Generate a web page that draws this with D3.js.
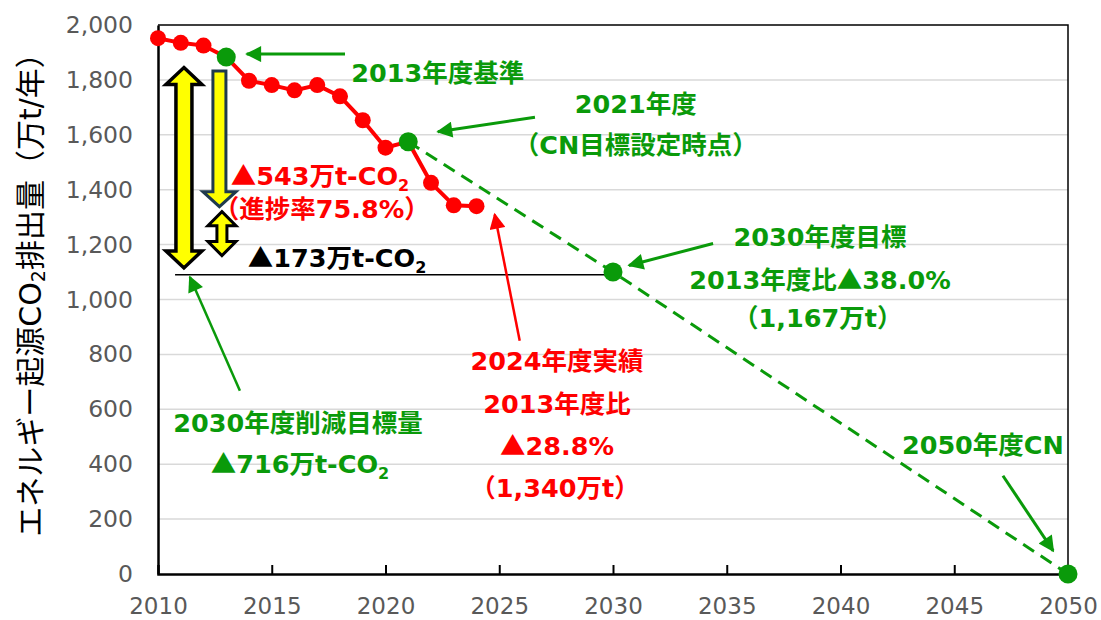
<!DOCTYPE html>
<html>
<head>
<meta charset="utf-8">
<script src="https://cdn.jsdelivr.net/npm/d3@7"></script>
<style>
  body { margin: 0; background: #fff; }
  svg { display: block; }
  text { font-family: "DejaVu Sans", "Noto Sans CJK JP", sans-serif; }
</style>
</head>
<body>
<svg id="chart" width="1101" height="620"></svg>
<script>
    // Actual emissions (万t-CO2), fiscal years 2010-2024
    const years = [2010, 2011, 2012, 2013, 2014, 2015, 2016, 2017, 2018, 2019, 2020, 2021, 2022, 2023, 2024];
    const emissions = [1952, 1935, 1925, 1883, 1797, 1781, 1762, 1781, 1740, 1653, 1553, 1575, 1425, 1343, 1340];

    // Target pathway (dashed green)
    const pathYears = [2021, 2030, 2050];
    const pathValues = [1575, 1100, 0];

    // Highlighted points (green)
    const keyYears = [2013, 2021, 2030, 2050];
    const keyValues = [1883, 1575, 1100, 0];

    // 2030 target reference line
    const targetLineYears = [2010.75, 2030];
    const targetLineValue = 1090;

    const xTicks = [2010, 2015, 2020, 2025, 2030, 2035, 2040, 2045, 2050];
    const yTicks = [0, 200, 400, 600, 800, 1000, 1200, 1400, 1600, 1800, 2000];

    const green = "#0a9a0a";
    const red = "#ff0000";

    const svg = d3.select("#chart");

    const x = d3.scaleLinear().domain([2010, 2050]).range([158, 1068]);
    const y = d3.scaleLinear().domain([0, 2000]).range([574, 25]);

    // Gridlines
    svg.append("g")
        .attr("stroke", "#d9d9d9")
        .attr("stroke-width", 1.5)
      .selectAll("line")
      .data(yTicks.filter(d => d > 0 && d < 2000))
      .join("line")
        .attr("x1", x(2010))
        .attr("x2", x(2050))
        .attr("y1", d => y(d))
        .attr("y2", d => y(d));

    // Frame (top/right)
    svg.append("path")
        .attr("d", `M${x(2010)},${y(2000)}H${x(2050)}V${y(0)}`)
        .attr("fill", "none")
        .attr("stroke", "#000")
        .attr("stroke-width", 1.5);

    // Axes
    const xAxis = svg.append("g")
        .attr("transform", `translate(0,${y(0)})`)
        .call(d3.axisBottom(x).tickValues(xTicks).tickSize(-9).tickFormat(d3.format("d")));
    xAxis.select(".domain").attr("stroke", "#000").attr("stroke-width", 2.5);
    xAxis.selectAll(".tick line").attr("stroke", "#000").attr("stroke-width", 2);
    xAxis.selectAll(".tick text")
        .attr("y", 32)
        .attr("dy", "0.35em")
        .attr("fill", "#595959")
        .attr("font-size", 23)
        .attr("font-family", "DejaVu Sans");
    xAxis.selectAll(".tick").filter(d => d === 2010 || d === 2050).select("line").remove();

    const yAxis = svg.append("g")
        .attr("transform", `translate(${x(2010)},0)`)
        .call(d3.axisLeft(y).tickValues(yTicks).tickSize(0).tickPadding(25).tickFormat(d3.format(",")));
    yAxis.select(".domain").attr("stroke", "#000").attr("stroke-width", 2.5);
    yAxis.selectAll(".tick text")
        .attr("fill", "#595959")
        .attr("font-size", 23.5)
        .attr("font-family", "DejaVu Sans");

    // Y axis title
    const yTitle = svg.append("text")
        .attr("transform", `translate(30,${y(1000) - 12}) rotate(-90)`)
        .attr("text-anchor", "middle")
        .attr("dominant-baseline", "central")
        .attr("font-size", 30)
        .attr("fill", "#000")
        .attr("font-family", "'Noto Sans CJK JP', sans-serif");
    yTitle.append("tspan").text("エネルギー起源CO");
    yTitle.append("tspan").attr("font-size", 19).attr("dy", 8).text("2");
    yTitle.append("tspan").attr("dy", -8).text("排出量（万t/年）");

    // 2030 target horizontal line
    svg.append("line")
        .attr("x1", x(targetLineYears[0]))
        .attr("x2", x(targetLineYears[1]))
        .attr("y1", y(targetLineValue))
        .attr("y2", y(targetLineValue))
        .attr("stroke", "#000")
        .attr("stroke-width", 1.5);

    // Dashed pathway
    svg.append("path")
        .datum(d3.zip(pathYears, pathValues))
        .attr("fill", "none")
        .attr("stroke", green)
        .attr("stroke-width", 3)
        .attr("stroke-dasharray", "13,8")
        .attr("d", d3.line().x(d => x(d[0])).y(d => y(d[1])));

    // Actual emissions line
    const actual = d3.zip(years, emissions);
    svg.append("path")
        .datum(actual)
        .attr("fill", "none")
        .attr("stroke", red)
        .attr("stroke-width", 4)
        .attr("d", d3.line().x(d => x(d[0])).y(d => y(d[1])));
    svg.append("g")
        .attr("fill", red)
      .selectAll("circle")
      .data(actual)
      .join("circle")
        .attr("cx", d => x(d[0]))
        .attr("cy", d => y(d[1]))
        .attr("r", 8);

    svg.append("g")
        .attr("fill", green)
      .selectAll("circle")
      .data(d3.zip(keyYears, keyValues))
      .join("circle")
        .attr("cx", d => x(d[0]))
        .attr("cy", d => y(d[1]))
        .attr("r", 9.5);

    // Block arrows (yellow)
    function blockArrow(cx, y1, y2, sw, hw, hl, top, bottom) {
        const pts = [];
        if (top) pts.push([cx, y1], [cx + hw, y1 + hl], [cx + sw, y1 + hl]);
        else pts.push([cx + sw, y1]);
        if (bottom) pts.push([cx + sw, y2 - hl], [cx + hw, y2 - hl], [cx, y2], [cx - hw, y2 - hl], [cx - sw, y2 - hl]);
        else pts.push([cx + sw, y2], [cx - sw, y2]);
        if (top) pts.push([cx - sw, y1 + hl], [cx - hw, y1 + hl]);
        else pts.push([cx - sw, y1]);
        return "M" + pts.map(p => p.join(",")).join("L") + "Z";
    }

    svg.append("path")
        .attr("d", blockArrow(x(2011.14), y(1845), y(1115), 8, 18, 17, true, true))
        .attr("fill", "#ffff00")
        .attr("stroke", "#000")
        .attr("stroke-width", 3.5)
        .attr("stroke-linejoin", "miter");
    svg.append("path")
        .attr("d", blockArrow(x(2012.7), y(1832), y(1338), 6.5, 16.5, 15, false, true))
        .attr("fill", "#ffff00")
        .attr("stroke", "#1f3a4d")
        .attr("stroke-width", 3)
        .attr("stroke-linejoin", "miter");
    svg.append("path")
        .attr("d", blockArrow(x(2012.81), y(1320), y(1160), 5, 14, 14, true, true))
        .attr("fill", "#ffff00")
        .attr("stroke", "#000")
        .attr("stroke-width", 3)
        .attr("stroke-linejoin", "miter");

    // Arrow markers
    const defs = svg.append("defs");
    [["head-green", green], ["head-red", red]].forEach(([id, c]) => {
        defs.append("marker")
            .attr("id", id)
            .attr("viewBox", "0 0 10 10")
            .attr("refX", 9)
            .attr("refY", 5)
            .attr("markerUnits", "userSpaceOnUse")
            .attr("markerWidth", 18)
            .attr("markerHeight", 16)
            .attr("orient", "auto")
          .append("path")
            .attr("d", "M0,0L10,5L0,10Z")
            .attr("fill", c);
    });

    const pointers = [
        { from: [2018.22, 1894], to: [2013.9, 1894], color: green, head: "head-green", w: 3 },
        { from: [2026.57, 1664], to: [2022.3, 1611], color: green, head: "head-green", w: 3 },
        { from: [2034.4, 1204], to: [2030.7, 1124], color: green, head: "head-green", w: 3 },
        { from: [2047.14, 358], to: [2049.35, 84], color: green, head: "head-green", w: 3 },
        { from: [2013.6, 668], to: [2011.4, 1082], color: green, head: "head-green", w: 2.5 },
        { from: [2025.9, 850], to: [2024.8, 1310], color: red, head: "head-red", w: 2.5 }
    ];
    svg.append("g")
      .selectAll("line")
      .data(pointers)
      .join("line")
        .attr("x1", d => x(d.from[0]))
        .attr("y1", d => y(d.from[1]))
        .attr("x2", d => x(d.to[0]))
        .attr("y2", d => y(d.to[1]))
        .attr("stroke", d => d.color)
        .attr("stroke-width", d => d.w)
        .attr("marker-end", d => `url(#${d.head})`);

    // Text annotations
    const labels = [
        { t: "2013年度基準", at: [2022.3, 1825], c: green },
        { t: "2021年度", at: [2031.0, 1712], c: green },
        { t: "（CN目標設定時点）", at: [2031.0, 1562], c: green },
        { t: "2030年度目標", at: [2039.1, 1226], c: green },
        { t: "2013年度比▲38.0%", at: [2039.1, 1072], c: green },
        { t: "（1,167万t）", at: [2039.0, 931], c: green },
        { t: "2050年度CN", at: [2046.26, 471], c: green },
        { t: "2030年度削減目標量", at: [2016.15, 551], c: green },
        { t: "▲716万t-CO₂", at: [2016.24, 401], c: green },
        { t: "▲543万t-CO₂", at: [2017.12, 1450], c: red },
        { t: "（進捗率75.8%）", at: [2017.2, 1328], c: red },
        { t: "▲173万t-CO₂", at: [2017.87, 1150], c: "#000" },
        { t: "2024年度実績", at: [2027.54, 777], c: red },
        { t: "2013年度比", at: [2027.54, 620], c: red },
        { t: "▲28.8%", at: [2027.54, 467], c: red },
        { t: "（1,340万t）", at: [2027.45, 314], c: red }
    ];

    const lbl = svg.append("g")
        .attr("font-size", 25.5)
        .attr("font-weight", "bold")
        .attr("text-anchor", "middle")
      .selectAll("text")
      .data(labels)
      .join("text")
        .attr("x", d => x(d.at[0]))
        .attr("y", d => y(d.at[1]) + 9)
        .attr("fill", d => d.c);

    lbl.each(function(d) {
        const el = d3.select(this);
        const parts = d.t.split("₂");
        el.append("tspan").text(parts[0]);
        if (parts.length > 1) {
            el.append("tspan").attr("font-size", 16).attr("dy", 6).text("2");
        }
    });
    // ▲ glyph from the CJK font for full-width look
    lbl.selectAll("tspan").each(function() {
        const el = d3.select(this);
        const s = el.text();
        if (s.includes("▲")) {
            const [a, b] = s.split("▲");
            el.text(null);
            if (a) el.append("tspan").text(a);
            el.append("tspan").attr("font-family", "'Noto Sans CJK JP'").text("▲");
            el.append("tspan").text(b);
        }
    });
</script>
</body>
</html>
